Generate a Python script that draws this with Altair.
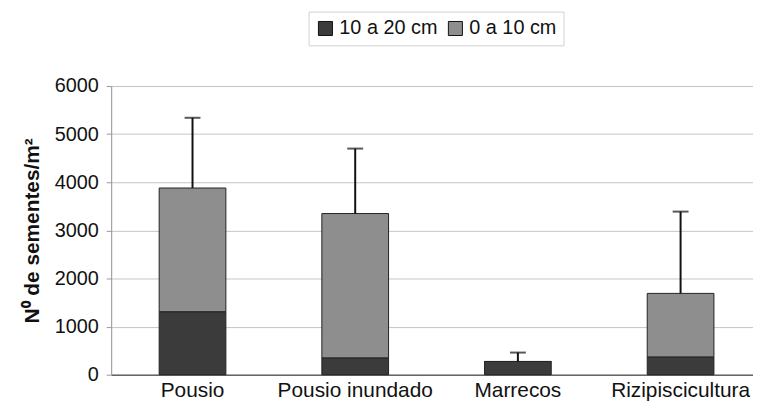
import altair as alt
import pandas as pd

categories = ["Pousio", "Pousio inundado", "Marrecos", "Rizipiscicultura"]
deep = [1310, 350, 275, 370]          # 10 a 20 cm
shallow = [2570, 3000, 0, 1320]       # 0 a 10 cm
totals = [3880, 3350, 275, 1690]
err_top = [5340, 4700, 460, 3390]
series = ["10 a 20 cm", "0 a 10 cm"]
colors = ["#3b3b3b", "#8e8e8e"]

rows = []
for c, d, s in zip(categories, deep, shallow):
    rows.append({"cat": c, "serie": series[0], "v": d, "ord": 0})
    rows.append({"cat": c, "serie": series[1], "v": s, "ord": 1})
df = pd.DataFrame(rows)
df_err = pd.DataFrame({"cat": categories, "tot": totals, "top": err_top})

FONT = "Liberation Sans"

xscale = alt.Scale(paddingInner=0.59, paddingOuter=0.295)
xenc = alt.X("cat:N", sort=categories, title=None, scale=xscale,
             axis=alt.Axis(labelAngle=0, labelFontSize=21, labelColor="#111",
                           labelFont=FONT, ticks=False, labelPadding=5,
                           domainColor="#666", domainWidth=1.5))

bars = alt.Chart(df).mark_bar(stroke="#222", strokeWidth=1).encode(
    x=xenc,
    y=alt.Y("sum(v):Q", title="N⁰ de sementes/m²",
            scale=alt.Scale(domain=[0, 6000], nice=False),
            axis=alt.Axis(values=[0, 1000, 2000, 3000, 4000, 5000, 6000], format="d",
                          labelFontSize=20, labelColor="#111", labelFont=FONT,
                          titleFont=FONT, titleFontSize=21, titleFontWeight="bold",
                          titleColor="#111", titlePadding=12,
                          gridColor="#c4c4c4", tickColor="#999", tickSize=5,
                          domainColor="#999", labelPadding=8)),
    color=alt.Color("serie:N", sort=series,
                    scale=alt.Scale(domain=series, range=colors),
                    legend=alt.Legend(title=None, orient="none", direction="horizontal",
                                      legendX=199, legendY=-75,
                                      labelFontSize=20, labelFont=FONT, labelColor="#111",
                                      symbolType="square", symbolSize=200,
                                      symbolStrokeColor="#111", symbolStrokeWidth=1,
                                      columnPadding=8, labelOffset=4,
                                      strokeColor="#d0d0d0", padding=7)),
    order=alt.Order("ord:Q"),
)

rule = alt.Chart(df_err).mark_rule(color="#111", strokeWidth=2).encode(
    x=alt.X("cat:N", sort=categories, scale=xscale),
    y="tot:Q", y2="top:Q",
)
cap = alt.Chart(df_err).mark_tick(color="#111", thickness=2, size=16, orient="horizontal").encode(
    x=alt.X("cat:N", sort=categories, scale=xscale),
    y="top:Q",
)

chart = alt.layer(bars, rule, cap).properties(
    width=656, height=291,
    autosize=alt.AutoSizeParams(type="none"),
    padding={"left": 104, "top": 77, "right": -9, "bottom": 43},
).configure_view(stroke=None).configure(background="white")

chart.save("out.html", embed_options={"renderer": "svg", "actions": False})
